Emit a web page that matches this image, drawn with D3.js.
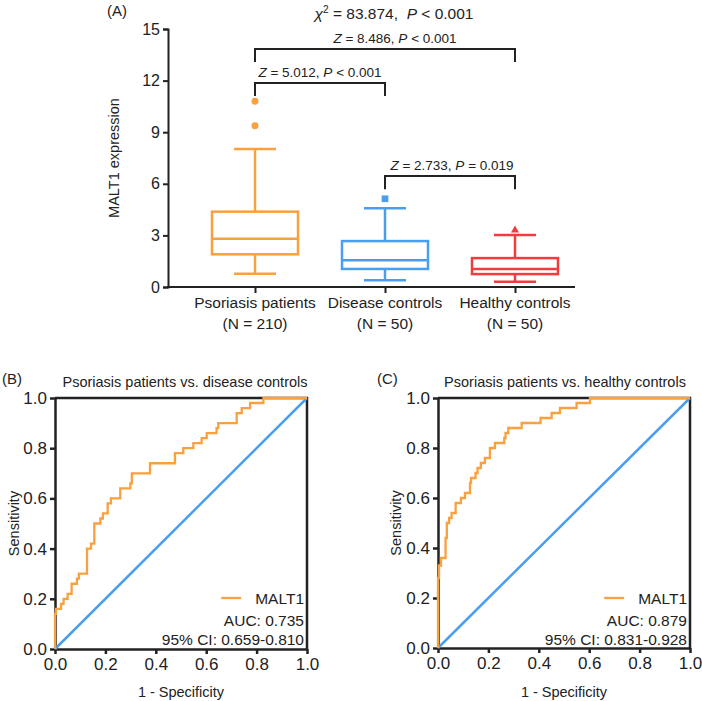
<!DOCTYPE html>
<html>
<head>
<meta charset="utf-8">
<script src="https://cdn.jsdelivr.net/npm/d3@7"></script>
<style>
body { margin: 0; background: #fff; }
svg { display: block; font-family: "Liberation Sans", Arial, sans-serif; }
text { fill: #222; }
</style>
</head>
<body>
<svg width="702" height="701"></svg>
<script>
// box plot data (panel A)
let groups = ["Psoriasis patients", "Disease controls", "Healthy controls"];
let groupN = ["(N = 210)", "(N = 50)", "(N = 50)"];
let whiskerLow = [0.77, 0.39, 0.30];
let q1 = [1.90, 1.05, 0.75];
let median = [2.80, 1.55, 1.05];
let q3 = [4.38, 2.67, 1.68];
let whiskerHigh = [8.03, 4.58, 3.03];
let outliers = [[9.37, 10.8], [5.13], [3.3]];
let yTicksA = [0, 3, 6, 9, 12, 15];

// pairwise tests: [from, to, Z, P]
let comparisons = [
    [0, 2, "8.486", "< 0.001"],
    [0, 1, "5.012", "< 0.001"],
    [1, 2, "2.733", "= 0.019"],
];
let chiSq = "83.874";
let chiP = "< 0.001";

// ROC curves: end of each horizontal run (fpr) and its sensitivity level
let fprB = [0, 0.004, 0.024, 0.034, 0.05, 0.066, 0.087, 0.095, 0.127, 0.143, 0.156, 0.18, 0.19, 0.209, 0.222, 0.259, 0.299, 0.305, 0.377, 0.476, 0.509, 0.549, 0.582, 0.602, 0.641, 0.648, 0.721, 0.741, 0.774, 0.827, 1];
let tprB = [0, 0.14, 0.16, 0.18, 0.20, 0.22, 0.26, 0.28, 0.30, 0.40, 0.42, 0.50, 0.52, 0.54, 0.58, 0.60, 0.64, 0.66, 0.70, 0.74, 0.78, 0.80, 0.82, 0.84, 0.86, 0.88, 0.90, 0.94, 0.96, 0.98, 1.0];
let fprC = [0, 0.004, 0.012, 0.03, 0.035, 0.044, 0.054, 0.07, 0.091, 0.107, 0.127, 0.131, 0.149, 0.157, 0.17, 0.186, 0.206, 0.226, 0.263, 0.268, 0.279, 0.332, 0.407, 0.451, 0.484, 0.55, 0.603, 1];
let tprC = [0, 0.28, 0.33, 0.36, 0.44, 0.50, 0.52, 0.54, 0.58, 0.60, 0.62, 0.66, 0.68, 0.70, 0.72, 0.74, 0.76, 0.80, 0.82, 0.84, 0.86, 0.88, 0.90, 0.92, 0.94, 0.96, 0.98, 1.0];
let rocTicks = [0, 0.2, 0.4, 0.6, 0.8, 1.0];

let orange = "#f9a03f", blue = "#4a9ef0", red = "#f23b3f";
let colors = [orange, blue, red];
let svg = d3.select("svg");

function rich(g, x, y, parts, size, anchor) {
    let t = g.append("text").attr("x", x).attr("y", y)
        .attr("text-anchor", anchor || "middle").style("font-size", size + "px")
        .style("white-space", "pre");
    for (let p of parts) {
        let s = t.append("tspan").text(p[0]);
        if (p[1] == "i") s.style("font-style", "italic");
        if (p[1] == "sup") s.attr("dy", -6).style("font-size", (size * 0.65) + "px");
        if (p[1] == "after") s.attr("dy", 6);
    }
    return t;
}

// ---------- panel A ----------
let gA = svg.append("g");
let x = d3.scalePoint().domain(groups).range([255, 515]);
let y = d3.scaleLinear().domain([0, 15]).range([287, 29]);

let yAxis = gA.append("g").attr("transform", "translate(168,0)")
    .call(d3.axisLeft(y).tickValues(yTicksA).tickSize(5).tickPadding(3));
yAxis.selectAll("text").style("font-size", "16px").attr("fill", "#222");
yAxis.selectAll("line, path").attr("stroke", "#222").attr("stroke-width", 2);

let xAxis = gA.append("g").attr("transform", "translate(0,287)")
    .call(d3.axisBottom(x).tickSize(6).tickFormat(""));
xAxis.select("path").remove();
xAxis.selectAll("line").attr("stroke", "#222").attr("stroke-width", 2);
gA.append("line").attr("x1", 167).attr("x2", 575).attr("y1", 287).attr("y2", 287)
    .attr("stroke", "#222").attr("stroke-width", 2);

groups.forEach(function(gname, i) {
    gA.append("text").attr("x", x(gname)).attr("y", 308).attr("text-anchor", "middle")
        .style("font-size", "15.5px").text(gname);
    gA.append("text").attr("x", x(gname)).attr("y", 329).attr("text-anchor", "middle")
        .style("font-size", "15.5px").text(groupN[i]);
});

gA.append("text").attr("transform", "translate(119,158) rotate(-90)").attr("text-anchor", "middle")
    .style("font-size", "14.5px").text("MALT1 expression");

let boxW = 86, capW = 42;
groups.forEach(function(gname, i) {
    let cx = x(gname), c = colors[i];
    let b = gA.append("g").attr("stroke", c).attr("stroke-width", 2.5).attr("fill", "none");
    b.append("line").attr("x1", cx).attr("x2", cx).attr("y1", y(whiskerLow[i])).attr("y2", y(q1[i]));
    b.append("line").attr("x1", cx).attr("x2", cx).attr("y1", y(q3[i])).attr("y2", y(whiskerHigh[i]));
    b.append("line").attr("x1", cx - capW / 2).attr("x2", cx + capW / 2).attr("y1", y(whiskerLow[i])).attr("y2", y(whiskerLow[i]));
    b.append("line").attr("x1", cx - capW / 2).attr("x2", cx + capW / 2).attr("y1", y(whiskerHigh[i])).attr("y2", y(whiskerHigh[i]));
    b.append("rect").attr("x", cx - boxW / 2).attr("width", boxW)
        .attr("y", y(q3[i])).attr("height", y(q1[i]) - y(q3[i]));
    b.append("line").attr("x1", cx - boxW / 2).attr("x2", cx + boxW / 2).attr("y1", y(median[i])).attr("y2", y(median[i]));
    let shape = [d3.symbolCircle, d3.symbolSquare, d3.symbolTriangle][i];
    gA.selectAll(null).data(outliers[i]).enter().append("path")
        .attr("d", d3.symbol().type(shape).size([38, 45, 28][i]))
        .attr("transform", function(d) { return "translate(" + cx + "," + y(d) + ")"; })
        .attr("fill", c);
});

// brackets
let bracketTop = [13.84, 11.86, 6.45], bracketDrop = 0.76, labelShift = [10, 0, 2];
comparisons.forEach(function(cmp, k) {
    let x1 = x(groups[cmp[0]]), x2 = x(groups[cmp[1]]);
    let yt = y(bracketTop[k]), yb = y(bracketTop[k] - bracketDrop);
    gA.append("path").attr("d", "M" + x1 + "," + yb + "V" + yt + "H" + x2 + "V" + yb)
        .attr("fill", "none").attr("stroke", "#222").attr("stroke-width", 2);
    rich(gA, (x1 + x2) / 2 + labelShift[k], yt - 6,
        [["Z", "i"], [" = " + cmp[2] + ", "], ["P", "i"], [" " + cmp[3]]], 13.5);
});
rich(gA, 394, 19, [["χ", "i"], ["2", "sup"], [" = " + chiSq + ",  ", "after"], ["P", "i"], [" " + chiP]], 15.5);
gA.append("text").attr("x", 107).attr("y", 16).style("font-size", "15px").text("(A)");

// ---------- ROC panels ----------
function rocPanel(left, right, top, bottom, fpr, tpr, title, tag, tagX, titleX, labelX, auc, ci) {
    let g = svg.append("g");
    let sx = d3.scaleLinear().domain([0, 1]).range([left, right]);
    let sy = d3.scaleLinear().domain([0, 1]).range([bottom, top]);
    let fmt = d3.format(".1f");

    // frame top / right
    g.append("path").attr("d", "M" + left + "," + top + "H" + right + "V" + bottom)
        .attr("fill", "none").attr("stroke", "#222").attr("stroke-width", 2.5);

    let ax = g.append("g").attr("transform", "translate(0," + bottom + ")")
        .call(d3.axisBottom(sx).tickValues(rocTicks).tickFormat(fmt).tickSize(5).tickSizeOuter(0).tickPadding(4));
    let ay = g.append("g").attr("transform", "translate(" + left + ",0)")
        .call(d3.axisLeft(sy).tickValues(rocTicks).tickFormat(fmt).tickSize(5).tickSizeOuter(0).tickPadding(3));
    for (let a of [ax, ay]) {
        a.selectAll("text").style("font-size", "17px").attr("fill", "#222");
        a.selectAll("line, path").attr("stroke", "#222").attr("stroke-width", 2.5);
    }

    g.append("line").attr("x1", sx(0)).attr("y1", sy(0)).attr("x2", sx(1)).attr("y2", sy(1))
        .attr("stroke", blue).attr("stroke-width", 2.5);
    let pts = fpr.map(function(f, i) { return [f, tpr[i]]; });
    g.append("path").datum(pts)
        .attr("d", d3.line().x(function(d) { return sx(d[0]); }).y(function(d) { return sy(d[1]); }).curve(d3.curveStepBefore))
        .attr("fill", "none").attr("stroke", orange).attr("stroke-width", 2.3);

    g.append("text").attr("x", titleX).attr("y", 387).attr("text-anchor", "middle")
        .style("font-size", "14.5px").text(title);
    g.append("text").attr("x", tagX).attr("y", 384).style("font-size", "15px").text(tag);
    g.append("text").attr("x", (left + right) / 2).attr("y", 697).attr("text-anchor", "middle")
        .style("font-size", "14.5px").text("1 - Specificity");
    g.append("text").attr("transform", "translate(" + labelX + "," + ((top + bottom) / 2) + ") rotate(-90)")
        .attr("text-anchor", "middle").style("font-size", "14.5px").text("Sensitivity");

    let tx = right - 3;
    let m = g.append("text").attr("x", tx).attr("y", 604).attr("text-anchor", "end")
        .style("font-size", "15.5px").text("MALT1");
    let mw = m.node().getComputedTextLength();
    g.append("line").attr("x1", tx - mw - 34).attr("x2", tx - mw - 14).attr("y1", 598).attr("y2", 598)
        .attr("stroke", orange).attr("stroke-width", 2.3);
    g.append("text").attr("x", tx).attr("y", 626).attr("text-anchor", "end")
        .style("font-size", "15.5px").text("AUC: " + auc);
    g.append("text").attr("x", tx).attr("y", 645).attr("text-anchor", "end")
        .style("font-size", "15.5px").text("95% CI: " + ci);
}

rocPanel(55, 307, 398, 649, fprB, tprB, "Psoriasis patients vs. disease controls", "(B)", 2, 185, 19, "0.735", "0.659-0.810");
rocPanel(438, 690, 398, 648, fprC, tprC, "Psoriasis patients vs. healthy controls", "(C)", 377, 565, 401, "0.879", "0.831-0.928");
</script>
</body>
</html>
